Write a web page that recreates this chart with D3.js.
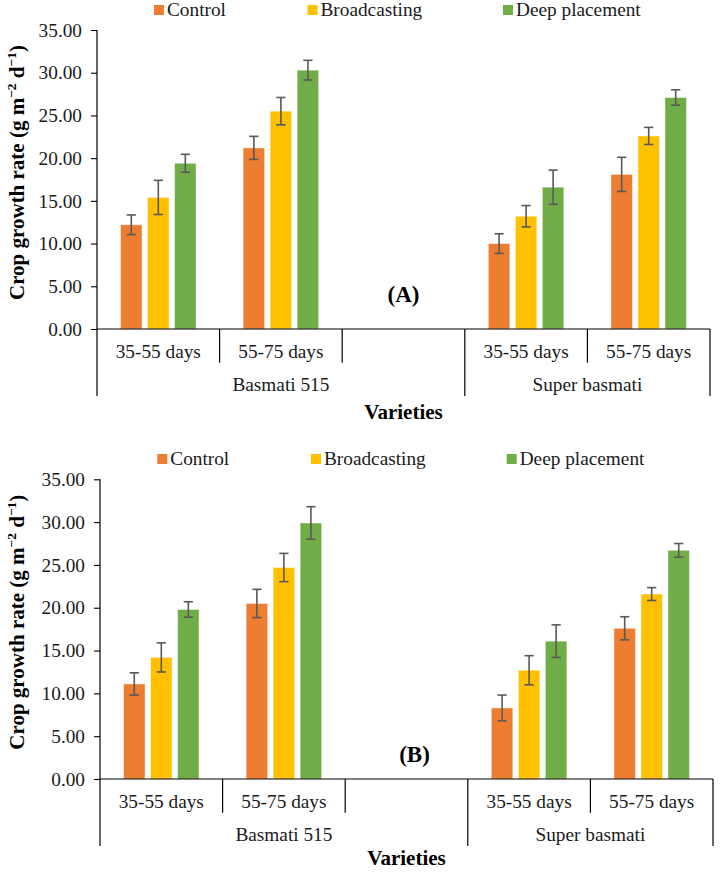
<!DOCTYPE html>
<html>
<head>
<meta charset="utf-8">
<script src="https://cdn.jsdelivr.net/npm/d3@7"></script>
<style>
  html, body { margin: 0; padding: 0; background: #fff; }
  svg { display: block; }
</style>
</head>
<body>
<div id="chart"></div>
<script>
// ---------- data ----------
const series = ["Control", "Broadcasting", "Deep placement"];
const seriesColors = ["#ED7D31", "#FFC000", "#70AD47"];
const categoryLabels = ["35-55 days", "55-75 days", "", "35-55 days", "55-75 days"];
const dataSlots = [0, 1, 3, 4];            // category slots that hold bars
const varieties = ["Basmati 515", "Super basmati"];
const varietySpans = [[0, 3], [3, 5]];     // category index ranges
const yTicks = [0, 5, 10, 15, 20, 25, 30, 35];

// Panel A
const controlA = [12.2, 21.2, 10.0, 18.1];
const broadcastA = [15.4, 25.5, 13.2, 22.6];
const deepA = [19.4, 30.3, 16.6, 27.1];
const controlErrA = [1.15, 1.35, 1.15, 2.0];
const broadcastErrA = [2.0, 1.6, 1.25, 1.0];
const deepErrA = [1.05, 1.15, 2.0, 0.9];

// Panel B
const controlB = [11.1, 20.5, 8.3, 17.6];
const broadcastB = [14.2, 24.7, 12.7, 21.6];
const deepB = [19.8, 29.9, 16.1, 26.7];
const controlErrB = [1.3, 1.65, 1.5, 1.35];
const broadcastErrB = [1.7, 1.65, 1.7, 0.75];
const deepErrB = [0.9, 1.9, 1.9, 0.8];

const W = 721, H = 872;
const svg = d3.select("#chart").append("svg").attr("width", W).attr("height", H);
const FONT = "'Liberation Serif', 'Times New Roman', serif";
const FS = 19.3, FSB = 21;

function drawPanel(opt) {
  const g = svg.append("g");
  const x = d3.scaleBand().domain(d3.range(categoryLabels.length)).range([opt.x0, opt.x1]).padding(0);
  const y = d3.scaleLinear().domain([0, 35]).range([opt.y0, opt.yTop]);
  const inner = x.bandwidth() * 0.616;
  const x1 = d3.scaleBand().domain(series).range([-inner / 2, inner / 2]).paddingInner(0.204);

  const values = [opt.control, opt.broadcast, opt.deep];
  const errs = [opt.controlErr, opt.broadcastErr, opt.deepErr];
  const rows = [];
  dataSlots.forEach((slot, i) => {
    series.forEach((s, k) => {
      rows.push({ slot, s, k, v: values[k][i], e: errs[k][i] });
    });
  });

  // y axis
  const yAxis = d3.axisLeft(y).tickValues(yTicks).tickFormat(d3.format(".2f"))
    .tickSize(6).tickSizeOuter(0).tickPadding(9);
  const ya = g.append("g").attr("transform", `translate(${opt.x0},0)`).call(yAxis);
  ya.select(".domain").remove();
  ya.selectAll(".tick line").attr("stroke", "#000").attr("stroke-width", 1.1);
  ya.selectAll(".tick text").attr("font-family", FONT).attr("font-size", FS).attr("fill", "#1a1a1a");

  // bars
  g.append("g").selectAll("rect").data(rows).join("rect")
    .attr("x", d => x(d.slot) + x.bandwidth() / 2 + x1(d.s))
    .attr("y", d => y(d.v))
    .attr("width", x1.bandwidth())
    .attr("height", d => y(0) - y(d.v))
    .attr("fill", d => seriesColors[d.k])
    .attr("stroke", "#fff").attr("stroke-opacity", 0.45).attr("stroke-width", 1);

  // error bars
  const eg = g.append("g").attr("stroke", "#595959").attr("stroke-width", 1.6).attr("fill", "none");
  rows.forEach(d => {
    const cx = x(d.slot) + x.bandwidth() / 2 + x1(d.s) + x1.bandwidth() / 2;
    eg.append("line").attr("x1", cx).attr("x2", cx).attr("y1", y(d.v + d.e)).attr("y2", y(d.v - d.e));
    eg.append("line").attr("x1", cx - 4.6).attr("x2", cx + 4.6).attr("y1", y(d.v + d.e)).attr("y2", y(d.v + d.e));
    eg.append("line").attr("x1", cx - 4.6).attr("x2", cx + 4.6).attr("y1", y(d.v - d.e)).attr("y2", y(d.v - d.e));
  });

  // axes lines
  const ax = g.append("g").attr("stroke", "#000").attr("stroke-width", 1.2);
  const y0 = y(0);
  ax.append("line").attr("x1", opt.x0).attr("x2", opt.x0).attr("y1", y(35)).attr("y2", y0 + 67);
  ax.append("line").attr("x1", opt.x0).attr("x2", opt.x1).attr("y1", y0).attr("y2", y0);
  const groupBounds = new Set([0, 3, 5]);
  for (let i = 1; i <= categoryLabels.length; i++) {
    const bx = i === categoryLabels.length ? opt.x1 : x(i);
    const len = groupBounds.has(i) ? 67 : 33.7;
    ax.append("line").attr("x1", bx).attr("x2", bx).attr("y1", y0).attr("y2", y0 + len);
  }

  // category labels
  const xa = d3.axisBottom(x).tickSize(0).tickPadding(0).tickFormat(i => categoryLabels[i]);
  const xg = g.append("g").attr("transform", `translate(0,${y0 + 28.5})`).call(xa);
  xg.select(".domain").remove();
  xg.selectAll(".tick text").attr("font-family", FONT).attr("font-size", FS).attr("fill", "#1a1a1a")
    .attr("dy", 0);

  // variety labels
  varieties.forEach((v, i) => {
    const [a, b] = varietySpans[i];
    const xa0 = x(a), xb = b === categoryLabels.length ? opt.x1 : x(b);
    g.append("text").attr("x", (xa0 + xb) / 2).attr("y", y0 + 62)
      .attr("text-anchor", "middle").attr("font-family", FONT).attr("font-size", FS)
      .attr("fill", "#1a1a1a").text(v);
  });

  // x title
  g.append("text").attr("x", (opt.x0 + opt.x1) / 2).attr("y", y0 + opt.titleDy)
    .attr("text-anchor", "middle").attr("font-family", FONT).attr("font-size", FSB)
    .attr("font-weight", "bold").attr("fill", "#000").text("Varieties");

  // y title
  const cy = (y(0) + y(35)) / 2 - 7;
  const yt = g.append("text").attr("transform", `translate(24,${cy}) rotate(-90)`)
    .attr("text-anchor", "middle").attr("font-family", FONT).attr("font-size", FSB)
    .attr("font-weight", "bold").attr("fill", "#000");
  yt.append("tspan").text("Crop growth rate (g m");
  yt.append("tspan").attr("dy", -8).attr("font-size", 13.5).text("\u22122");
  yt.append("tspan").attr("dy", 8).text(" d");
  yt.append("tspan").attr("dy", -8).attr("font-size", 13.5).text("\u22121");
  yt.append("tspan").attr("dy", 8).text(")");

  // panel label
  g.append("text").attr("x", opt.labelX).attr("y", y0 - opt.labelDy)
    .attr("text-anchor", "middle").attr("font-family", FONT).attr("font-size", 23)
    .attr("font-weight", "bold").attr("fill", "#000").text(opt.label);

  // legend
  const lg = g.append("g");
  series.forEach((s, k) => {
    lg.append("rect").attr("x", opt.legendX[k]).attr("y", opt.legendY)
      .attr("width", 10).attr("height", 10).attr("fill", seriesColors[k]);
    lg.append("text").attr("x", opt.legendX[k] + 13).attr("y", opt.legendY + 10.5)
      .attr("font-family", FONT).attr("font-size", FS).attr("fill", "#1a1a1a").text(s);
  });
}

drawPanel({
  x0: 97, x1: 710, y0: 329, yTop: 30,
  control: controlA, broadcast: broadcastA, deep: deepA,
  controlErr: controlErrA, broadcastErr: broadcastErrA, deepErr: deepErrA,
  label: "(A)", labelX: 403.5, labelDy: 27, titleDy: 90,
  legendX: [154, 307.5, 503], legendY: 5
});

drawPanel({
  x0: 100, x1: 713, y0: 779, yTop: 479.3,
  control: controlB, broadcast: broadcastB, deep: deepB,
  controlErr: controlErrB, broadcastErr: broadcastErrB, deepErr: deepErrB,
  label: "(B)", labelX: 414.5, labelDy: 17, titleDy: 86,
  legendX: [157.3, 311, 506.7], legendY: 454
});
</script>
</body>
</html>
